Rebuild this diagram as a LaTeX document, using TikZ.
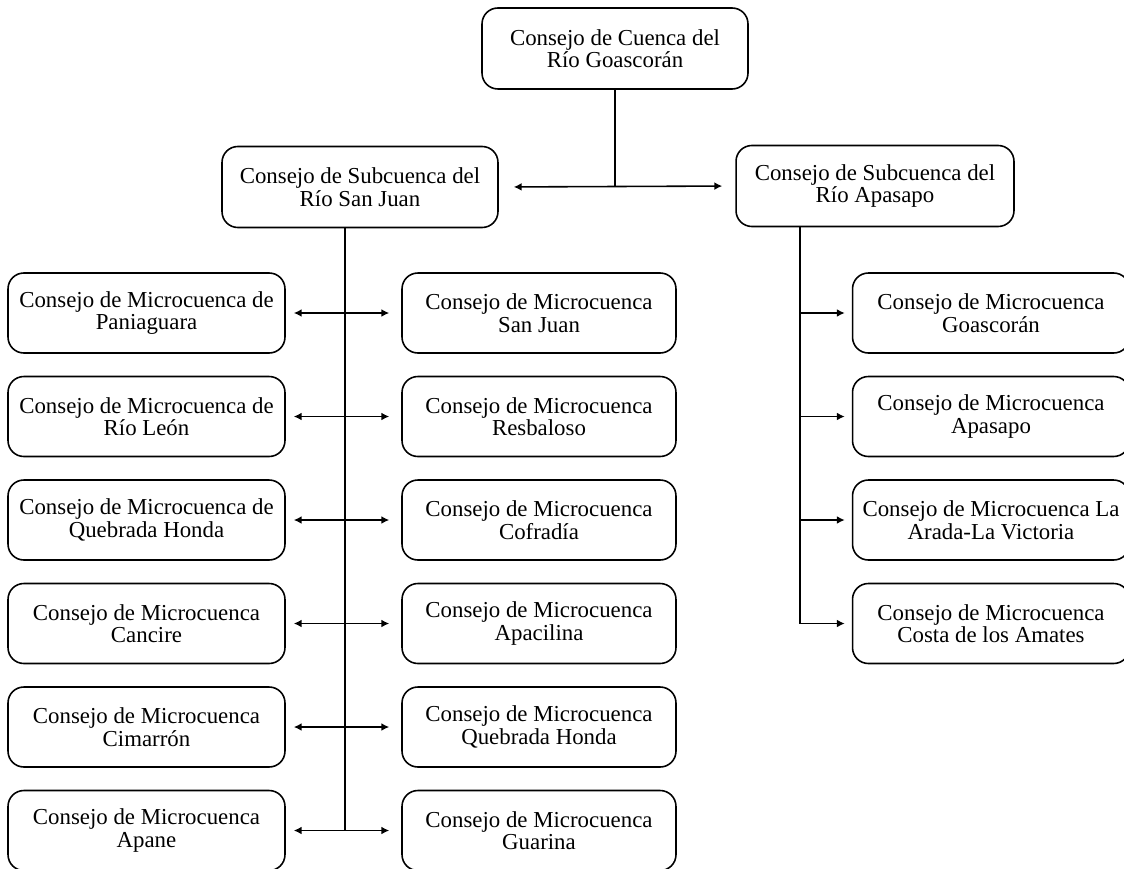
\documentclass[tikz,border=0pt]{standalone}
\usepackage{fontspec}
\setmainfont{Liberation Serif}
\usetikzlibrary{arrows.meta}
\begin{document}
\begin{tikzpicture}[
  x=0.02cm, y=-0.02cm,
  box/.style={draw, line width=0.9pt, rounded corners=9pt, minimum width=5.54cm,
               minimum height=1.6cm, align=center, font=\fontsize{13}{12.8}\selectfont},
  ln/.style={line width=0.9pt},
  arr/.style={-{Latex[length=4.5pt,width=4.5pt]}, line width=0.9pt},
  dbl/.style={{Latex[length=4.5pt,width=4.5pt]}-{Latex[length=4.5pt,width=4.5pt]}, line width=0.9pt}
]
  \useasboundingbox (0,0) rectangle (1124,868);
  \node[box, minimum width=5.32cm, minimum height=1.62cm] (top) at (615,48.5) {Consejo de Cuenca del\\Río Goascorán};
  \node[box, minimum width=5.52cm, minimum height=1.62cm] (ssj) at (360,187) {Consejo de Subcuenca del\\Río San Juan};
  \node[box, minimum width=5.56cm, minimum height=1.62cm] (sap) at (875,186) {Consejo de Subcuenca del\\Río Apasapo};
  % microcuencas San Juan
  \node[box] (l1) at (146.5,313)   {Consejo de Microcuenca de\\Paniaguara};
  \node[box] (l2) at (146.5,416.5) {Consejo de Microcuenca de\\Río León};
  \node[box] (l3) at (146.5,520)   {Consejo de Microcuenca de\\Quebrada Honda};
  \node[box] (l4) at (146.5,623.5) {Consejo de Microcuenca\\Cancire};
  \node[box] (l5) at (146.5,727)   {Consejo de Microcuenca\\Cimarrón};
  \node[box] (l6) at (146.5,830.5) {Consejo de Microcuenca\\Apane};
  \node[box, minimum width=5.48cm] (m1) at (539,313)   {Consejo de Microcuenca\\San Juan};
  \node[box, minimum width=5.48cm] (m2) at (539,416.5) {Consejo de Microcuenca\\Resbaloso};
  \node[box, minimum width=5.48cm] (m3) at (539,520)   {Consejo de Microcuenca\\Cofradía};
  \node[box, minimum width=5.48cm] (m4) at (539,623.5) {Consejo de Microcuenca\\Apacilina};
  \node[box, minimum width=5.48cm] (m5) at (539,727)   {Consejo de Microcuenca\\Quebrada Honda};
  \node[box, minimum width=5.48cm] (m6) at (539,830.5) {Consejo de Microcuenca\\Guarina};
  % microcuencas Apasapo
  \node[box] (a1) at (991,313)   {Consejo de Microcuenca\\Goascorán};
  \node[box] (a2) at (991,416.5) {Consejo de Microcuenca\\Apasapo};
  \node[box] (a3) at (991,520)   {Consejo de Microcuenca La\\Arada-La Victoria};
  \node[box] (a4) at (991,623.5) {Consejo de Microcuenca\\Costa de los Amates};
  \coordinate (sjx) at (345,0);
  \coordinate (apx) at (800,0);
  \draw[ln] (top.south) -- (top.south |- ssj.east);
  \draw[dbl, shorten <=0.3cm, shorten >=0.26cm] (ssj.east) -- (sap.west);
  \draw[ln] (ssj.south -| sjx) -- (sjx |- l6.east);
  \draw[ln] (sap.south -| apx) -- (apx |- a4.west);
  \draw[dbl, shorten <=0.16cm, shorten >=0.24cm] (l1.east) -- (m1.west);
  \draw[dbl, shorten <=0.16cm, shorten >=0.24cm] (l2.east) -- (m2.west);
  \draw[dbl, shorten <=0.16cm, shorten >=0.24cm] (l3.east) -- (m3.west);
  \draw[dbl, shorten <=0.16cm, shorten >=0.24cm] (l4.east) -- (m4.west);
  \draw[dbl, shorten <=0.16cm, shorten >=0.24cm] (l5.east) -- (m5.west);
  \draw[dbl, shorten <=0.16cm, shorten >=0.24cm] (l6.east) -- (m6.west);
  \draw[arr, shorten >=0.14cm] (apx |- a1.west) -- (a1.west);
  \draw[arr, shorten >=0.14cm] (apx |- a2.west) -- (a2.west);
  \draw[arr, shorten >=0.14cm] (apx |- a3.west) -- (a3.west);
  \draw[arr, shorten >=0.14cm] (apx |- a4.west) -- (a4.west);
\end{tikzpicture}
\end{document}
